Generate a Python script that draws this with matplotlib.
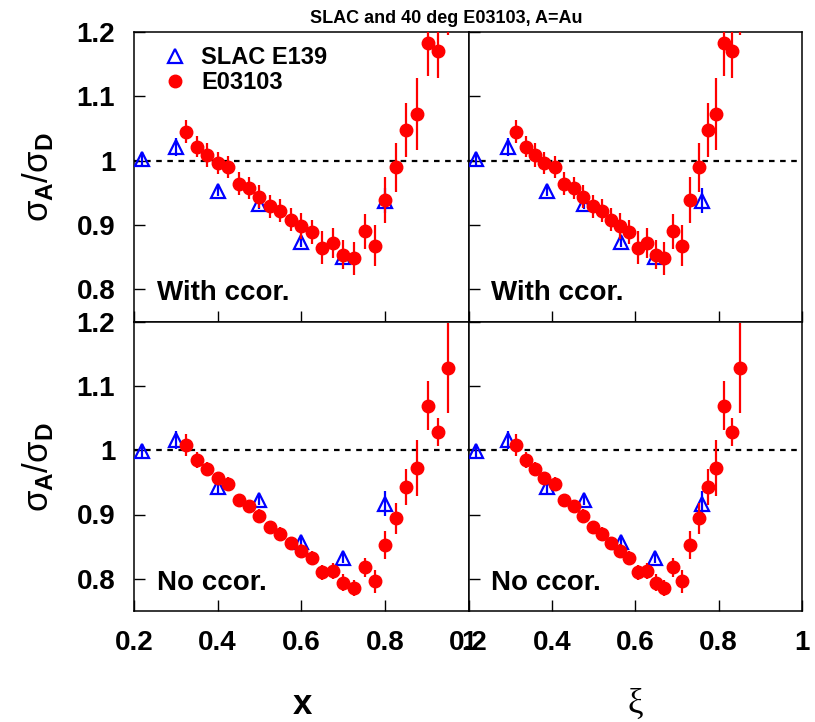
import matplotlib
matplotlib.use("Agg")
import matplotlib.pyplot as plt
from matplotlib.lines import Line2D

plt.rcParams['font.family'] = ['Liberation Sans', 'DejaVu Sans']
plt.rcParams['mathtext.fontset'] = 'custom'
plt.rcParams['mathtext.rm'] = 'Liberation Sans'
plt.rcParams['mathtext.it'] = 'Liberation Sans'
plt.rcParams['mathtext.bf'] = 'Liberation Sans:bold'

# ---------------- data ----------------
x_slac = [0.218, 0.300, 0.400, 0.500, 0.600, 0.700, 0.800]
xi_slac = [0.218, 0.294, 0.388, 0.476, 0.566, 0.648, 0.760]
y_slac_ccor = [1.003, 1.021, 0.953, 0.933, 0.874, 0.850, 0.938]
y_slac_nocor = [0.999, 1.016, 0.942, 0.923, 0.857, 0.832, 0.917]
err_slac = [0.010, 0.014, 0.008, 0.008, 0.008, 0.008, 0.020]

x_e03 = [0.324, 0.350, 0.374, 0.400, 0.425, 0.450, 0.475, 0.500, 0.526, 0.550,
         0.576, 0.600, 0.626, 0.650, 0.675, 0.700, 0.726, 0.752, 0.776, 0.801,
         0.826, 0.850, 0.876, 0.902, 0.926, 0.952]
xi_e03 = [0.314, 0.338, 0.360, 0.382, 0.407, 0.430, 0.452, 0.474, 0.498, 0.520,
          0.542, 0.563, 0.585, 0.606, 0.628, 0.650, 0.670, 0.690, 0.712, 0.732,
          0.752, 0.774, 0.794, 0.813, 0.833, 0.852]
y_e03_ccor = [1.045, 1.022, 1.009, 0.996, 0.990, 0.964, 0.957, 0.944, 0.929, 0.922,
              0.908, 0.899, 0.889, 0.865, 0.872, 0.854, 0.848, 0.890, 0.868, 0.939,
              0.990, 1.047, 1.073, 1.183, 1.170, 1.260]
err_e03_ccor = [0.018, 0.017, 0.019, 0.017, 0.017, 0.018, 0.017, 0.018, 0.018, 0.018,
                0.018, 0.020, 0.018, 0.026, 0.024, 0.023, 0.025, 0.027, 0.032, 0.036,
                0.038, 0.042, 0.056, 0.052, 0.041, 0.065]
y_e03_nocor = [1.008, 0.985, 0.971, 0.956, 0.948, 0.922, 0.913, 0.898, 0.880, 0.870,
               0.855, 0.844, 0.833, 0.810, 0.812, 0.794, 0.786, 0.818, 0.796, 0.853,
               0.894, 0.943, 0.972, 1.069, 1.028, 1.128]
err_e03_nocor = [0.017, 0.012, 0.010, 0.010, 0.010, 0.010, 0.010, 0.010, 0.010, 0.010,
                 0.010, 0.010, 0.011, 0.012, 0.012, 0.013, 0.012, 0.015, 0.018, 0.022,
                 0.024, 0.028, 0.044, 0.038, 0.022, 0.070]

x_ticks = [0.2, 0.4, 0.6, 0.8, 1.0]
x_ticklabels = ['0.2', '0.4', '0.6', '0.8', '1']
y_ticks = [0.8, 0.9, 1.0, 1.1, 1.2]
y_ticklabels = ['0.8', '0.9', '1', '1.1', '1.2']

title = 'SLAC and 40 deg E03103, A=Au'
panel_text = ['With ccor.', 'No ccor.']

# ---------------- figure ----------------
W, H = 815, 722
fig = plt.figure(figsize=(W / 100, H / 100), dpi=100)

left, mid, right = 134 / W, 468.5 / W, 802 / W
top, hmid, bot = 1 - 32 / H, 1 - 321.5 / H, 1 - 611 / H

red = '#ff0000'
blue = '#0000ff'

panels = [
    (0, 0, x_slac, y_slac_ccor, x_e03, y_e03_ccor, err_e03_ccor),
    (0, 1, xi_slac, y_slac_ccor, xi_e03, y_e03_ccor, err_e03_ccor),
    (1, 0, x_slac, y_slac_nocor, x_e03, y_e03_nocor, err_e03_nocor),
    (1, 1, xi_slac, y_slac_nocor, xi_e03, y_e03_nocor, err_e03_nocor),
]

for row, col, xs, ys, xe, ye, ee in panels:
    x0 = left if col == 0 else mid
    x1 = mid if col == 0 else right
    y0 = hmid if row == 0 else bot
    y1 = top if row == 0 else hmid
    ax = fig.add_axes([x0, y0, x1 - x0, y1 - y0])
    ax.set_xlim(0.2, 1.0)
    ax.set_ylim(0.75, 1.2)
    ax.axhline(1.0, color='black', ls=(0, (2.5, 2.5)), lw=1.6, zorder=1)
    ax.errorbar(xs, ys, yerr=err_slac, fmt='^', ms=10, mfc='none', mec=blue,
                mew=1.6, ecolor=blue, elinewidth=1.6, capsize=0, zorder=3)
    ax.errorbar(xe, ye, yerr=ee, fmt='o', ms=9, mfc=red, mec=red,
                ecolor=red, elinewidth=1.6, capsize=0, zorder=4)
    ax.set_xticks(x_ticks)
    ax.set_yticks(y_ticks)
    ax.tick_params(direction='in', length=8, width=1.0, top=False, right=False,
                   labelsize=20, pad=13.5)
    if row == 1:
        ax.set_xticklabels(x_ticklabels, fontweight='bold')
    else:
        ax.set_xticklabels([])
    if col == 0:
        ax.set_yticklabels(y_ticklabels, fontweight='bold')
    else:
        ax.set_yticklabels([])
    for s in ax.spines.values():
        s.set_linewidth(1.1)
    ax.text(0.255, 0.783, panel_text[row], fontsize=20, fontweight='bold',
            ha='left', va='baseline')
    if row == 0 and col == 0:
        handles = [
            Line2D([], [], ls='none', marker='^', ms=10, mfc='none', mec=blue, mew=1.6),
            Line2D([], [], ls='none', marker='o', ms=9, mfc=red, mec=red),
        ]
        ax.legend(handles, ['SLAC E139', 'E03103'], loc='upper left',
                  bbox_to_anchor=(0.06, 0.985), frameon=False,
                  prop={'size': 17, 'weight': 'bold'},
                  handlelength=1.0, handletextpad=0.6, labelspacing=0.1,
                  borderaxespad=0.0)

# y labels
ylab = r'$\sigma_{\mathbf{A}}/\sigma_{\mathbf{D}}$'
fig.text(38 / W, 1 - 177 / H, ylab, rotation=90, fontsize=25, ha='center', va='center')
fig.text(38 / W, 1 - 467 / H, ylab, rotation=90, fontsize=25, ha='center', va='center')

# x labels
fig.text(302 / W, 1 - 704 / H, 'x', fontsize=25, fontweight='bold', ha='center', va='center')
fig.text(635 / W, 1 - 704 / H, 'ξ', fontsize=25, family=['Liberation Serif', 'DejaVu Serif'],
         ha='center', va='center')

fig.text(446 / W, 1 - 23 / H, title, fontsize=13, fontweight='bold', ha='center', va='baseline')

fig.savefig('out.png', dpi=100)
